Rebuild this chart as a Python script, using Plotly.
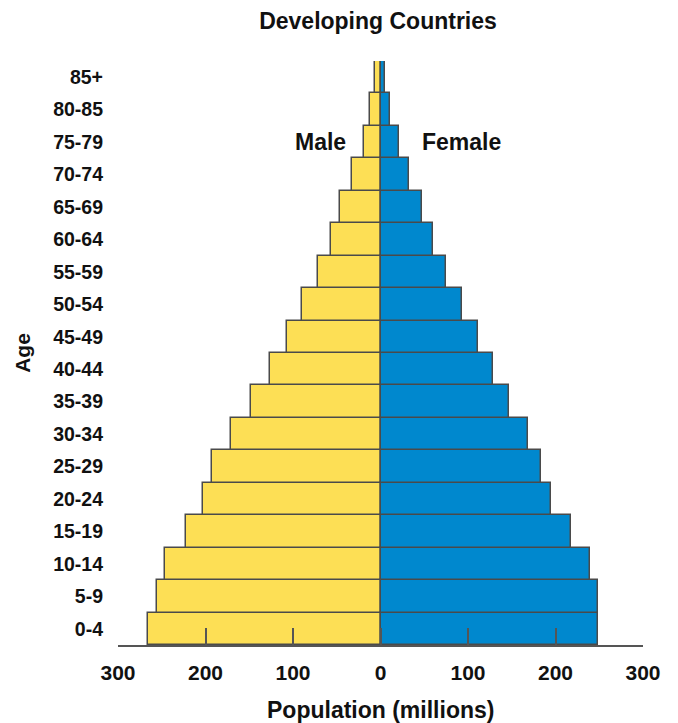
import plotly.graph_objects as go

ages = ["0-4", "5-9", "10-14", "15-19", "20-24", "25-29", "30-34", "35-39",
        "40-44", "45-49", "50-54", "55-59", "60-64", "65-69", "70-74", "75-79",
        "80-85", "85+"]
male = [266, 255, 246, 222, 203, 193, 171, 148, 126, 107, 90, 71, 57, 46, 33, 19, 12, 6]
female = [249, 249, 239, 218, 195, 183, 169, 147, 129, 111, 93, 75, 60, 47, 33, 21, 11, 5]
x_ticks = [-300, -200, -100, 0, 100, 200, 300]
x_tick_text = ["300", "200", "100", "0", "100", "200", "300"]

FONT = "Arial, Liberation Sans, sans-serif"
outline = dict(color="#4a4a4a", width=1.5)
W, H = 670, 715  # page body has an 8px margin

fig = go.Figure()
fig.add_trace(go.Bar(
    y=ages, x=[-v for v in male], orientation="h", name="Male",
    marker=dict(color="#FDDF55", line=outline), customdata=male,
    hovertemplate="Male %{y}: %{customdata}<extra></extra>"))
fig.add_trace(go.Bar(
    y=ages, x=female, orientation="h", name="Female",
    marker=dict(color="#0088CE", line=outline),
    hovertemplate="Female %{y}: %{x}<extra></extra>"))

fig.update_layout(
    width=W, height=H,
    margin=dict(l=110, r=35, t=53, b=78),
    paper_bgcolor="white", plot_bgcolor="white",
    barmode="relative", bargap=0,
    showlegend=False,
    font=dict(family=FONT, color="#111", size=19, weight="bold"),
    title=dict(text="Developing Countries", x=370 / W, xanchor="center",
               y=1 - 13 / H, yanchor="middle", yref="container",
               font=dict(size=23, weight="bold", family=FONT, color="#111")),
    xaxis=dict(range=[-300, 300], tickvals=x_ticks, ticktext=x_tick_text,
               showgrid=False, zeroline=False, showline=True,
               linecolor="#555", linewidth=1.5,
               ticks="inside", ticklen=17, tickwidth=1.5, tickcolor="#555",
               tickfont=dict(size=21, weight="bold", family=FONT, color="#111"),
               ticklabelstandoff=8, automargin=False,
               layer="above traces", fixedrange=True),
    yaxis=dict(categoryorder="array", categoryarray=ages,
               range=[-0.5, 17.5], showgrid=False, zeroline=False,
               showline=False, ticks="",
               tickfont=dict(size=19.5, weight="bold", family=FONT, color="#111"),
               ticklabelstandoff=14,
               title=dict(text="Age", standoff=16,
                          font=dict(size=21, weight="bold", family=FONT, color="#111")),
               fixedrange=True),
)

fig.add_annotation(x=-37, y="75-79", text="Male", showarrow=False,
                   xanchor="right", yanchor="middle",
                   font=dict(size=23, weight="bold", family=FONT, color="#111"))
fig.add_annotation(x=45, y="75-79", text="Female", showarrow=False,
                   xanchor="left", yanchor="middle",
                   font=dict(size=23, weight="bold", family=FONT, color="#111"))
fig.add_annotation(x=0, xref="x", y=0, yref="paper", yshift=-65,
                   text="Population (millions)", showarrow=False,
                   xanchor="center", yanchor="middle",
                   font=dict(size=23, weight="bold", family=FONT, color="#111"))

fig.write_html("out.html")
